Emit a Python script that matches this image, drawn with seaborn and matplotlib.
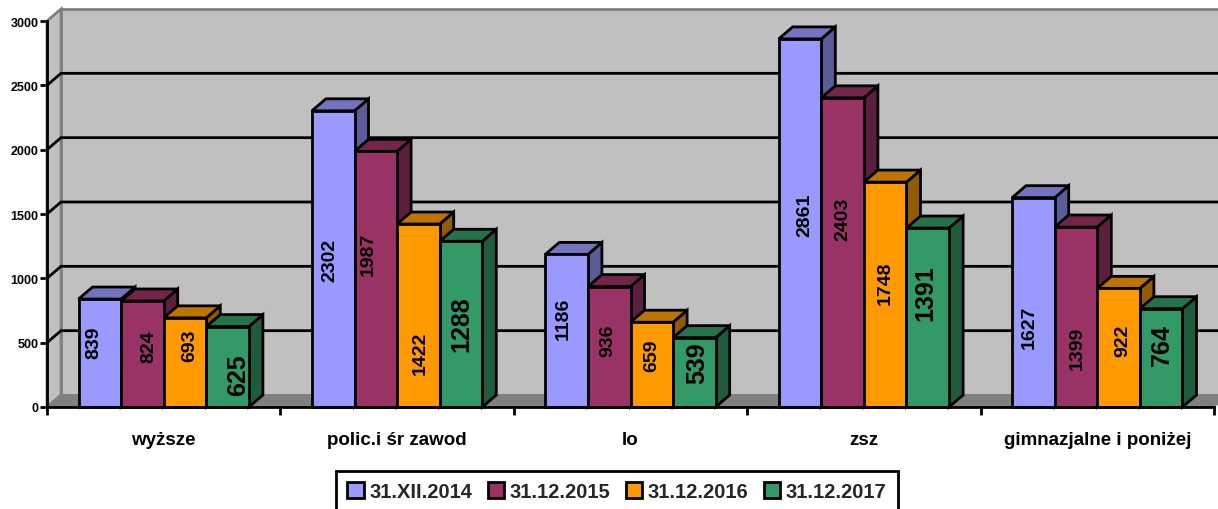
import matplotlib
matplotlib.use("Agg")
import matplotlib.pyplot as plt
from matplotlib.patches import Polygon
import pandas as pd
import seaborn as sns

categories = ["wyższe", "polic.i śr zawod", "lo", "zsz", "gimnazjalne i poniżej"]
series_names = ["31.XII.2014", "31.12.2015", "31.12.2016", "31.12.2017"]
v2014 = [839, 2302, 1186, 2861, 1627]
v2015 = [824, 1987, 936, 2403, 1399]
v2016 = [693, 1422, 659, 1748, 922]
v2017 = [625, 1288, 539, 1391, 764]
all_values = [v2014, v2015, v2016, v2017]

# styling
front = ["#9999FF", "#993366", "#FF9900", "#339966"]
top_c = ["#7373BF", "#732649", "#BF7300", "#267349"]
side_c = ["#5C5C99", "#5C1F3D", "#8F5C00", "#1F5C3D"]
# label offsets from the bar centre (pixels, right/up) and sizes, per series then category
off_x = [[-6, -3, -3, 5, -4], [6, -8, -1, 0, 1], [5, 2, 0, 0, 4], [11, 0, 3, -2, 1]]
off_y = [[11, -1, 13, 9, -24], [8, 26, 7, 34, -30], [18, -37, 10, 12, 8], [-7, 1, 10, 25, 14]]
big = [False, False, False, True]

W, H = 1218, 510
X0, X1, Y0, Y3 = 47, 1214, 408, 22
DX, DY = 14, 12

sns.set_theme(style="white")
plt.rcParams["font.family"] = ["Liberation Sans", "DejaVu Sans"]
plt.rcParams["font.weight"] = "bold"

df = pd.DataFrame({
    "cat": categories * 4,
    "series": [s for s in series_names for _ in categories],
    "val": v2014 + v2015 + v2016 + v2017,
})

fig = plt.figure(figsize=(W / 100, H / 100), dpi=100, facecolor="white")
ax = fig.add_axes([X0 / W, 1 - Y0 / H, (X1 - X0) / W, (Y0 - Y3) / H])
sns.barplot(data=df, x="cat", y="val", hue="series", order=categories, hue_order=series_names,
            palette=front, saturation=1, width=0.73, gap=0, edgecolor="black", linewidth=2,
            ax=ax, zorder=10)
ax.set_xlim(-0.5, 4.5)
ax.set_ylim(0, 3000)
ax.set_xlabel("")
ax.set_ylabel("")
ddx = DX * 5 / (X1 - X0)
ddy = DY * 3000 / (Y0 - Y3)
ax.set_facecolor("white")

# walls and floor
xl, xr = -0.5, 4.5
ax.add_patch(Polygon([(xl + ddx, ddy), (xr + ddx, ddy), (xr + ddx, 3000 + ddy), (xl + ddx, 3000 + ddy)],
                     fc="#C0C0C0", ec="#808080", lw=2, clip_on=False, zorder=1))
ax.add_patch(Polygon([(xl, 0), (xl + ddx, ddy), (xl + ddx, 3000 + ddy), (xl, 3000)],
                     fc="#C0C0C0", ec="#808080", lw=2, clip_on=False, zorder=1))
ax.add_patch(Polygon([(xl, 0), (xl + ddx, ddy), (xr + ddx, ddy), (xr, 0)],
                     fc="#808080", ec="#808080", lw=1, clip_on=False, zorder=1.5))
for g in [500, 1000, 1500, 2000, 2500]:
    ax.plot([xl, xl + ddx, xr + ddx], [g, g + ddy, g + ddy], color="black", lw=2,
            clip_on=False, zorder=2, solid_joinstyle="miter")

# depth faces, drawn left to right so that each bar covers its neighbour's side
n = 0
for c in range(len(categories)):
    for s, cont in enumerate(ax.containers):
        bar = cont[c]
        x0, w, h = bar.get_x(), bar.get_width(), bar.get_height()
        x1 = x0 + w
        z = 10 + n
        n += 1
        bar.set_zorder(z + 0.5)
        bar.set_clip_on(False)
        ax.add_patch(Polygon([(x1, 0), (x1 + ddx, ddy), (x1 + ddx, h + ddy), (x1, h)],
                             fc=side_c[s], ec="black", lw=2, clip_on=False, zorder=z))
        ax.add_patch(Polygon([(x0, h), (x0 + ddx, h + ddy), (x1 + ddx, h + ddy), (x1, h)],
                             fc=top_c[s], ec="black", lw=2, clip_on=False, zorder=z))
        ax.annotate(str(all_values[s][c]), xy=(x0 + w / 2, h / 2),
                    xytext=(off_x[s][c] * 0.72, off_y[s][c] * 0.72), textcoords="offset points",
                    rotation=90, ha="center", va="center", color="black", fontweight="bold",
                    fontsize=18 if big[s] else 14, zorder=100, annotation_clip=False)

# axes
for sp in ["top", "right"]:
    ax.spines[sp].set_visible(False)
for sp in ["left", "bottom"]:
    ax.spines[sp].set_linewidth(2)
    ax.spines[sp].set_color("black")
    ax.spines[sp].set_zorder(60)
ax.set_yticks([0, 500, 1000, 1500, 2000, 2500, 3000])
ax.tick_params(axis="y", length=5, width=2, color="black", labelsize=9, pad=1, left=True, labelcolor="black")
ax.set_xticks([-0.5, 0.5, 1.5, 2.5, 3.5, 4.5])
ax.set_xticklabels([])
ax.set_xticks([0, 1, 2, 3, 4], minor=True)
ax.set_xticklabels(categories, minor=True, fontsize=13.5, fontweight="bold", color="black")
ax.tick_params(axis="x", which="major", length=6, width=2, color="black", bottom=True)
ax.tick_params(axis="x", which="minor", length=0, pad=17)

handles, labels = ax.get_legend_handles_labels()
ax.get_legend().remove()
leg = fig.legend(handles, labels, loc="center", ncol=4,
                 bbox_to_anchor=(617 / W, 1 - 492.5 / H), fontsize=14.5, frameon=True,
                 fancybox=False, edgecolor="black", facecolor="white", framealpha=1,
                 handlelength=0.8, handleheight=0.8, handletextpad=0.3, columnspacing=0.75,
                 borderpad=0.55, borderaxespad=0, prop={"family": "Liberation Sans", "weight": "bold", "size": 14.5})
leg.get_frame().set_linewidth(2)

fig.savefig("out.png", dpi=100, facecolor="white")
